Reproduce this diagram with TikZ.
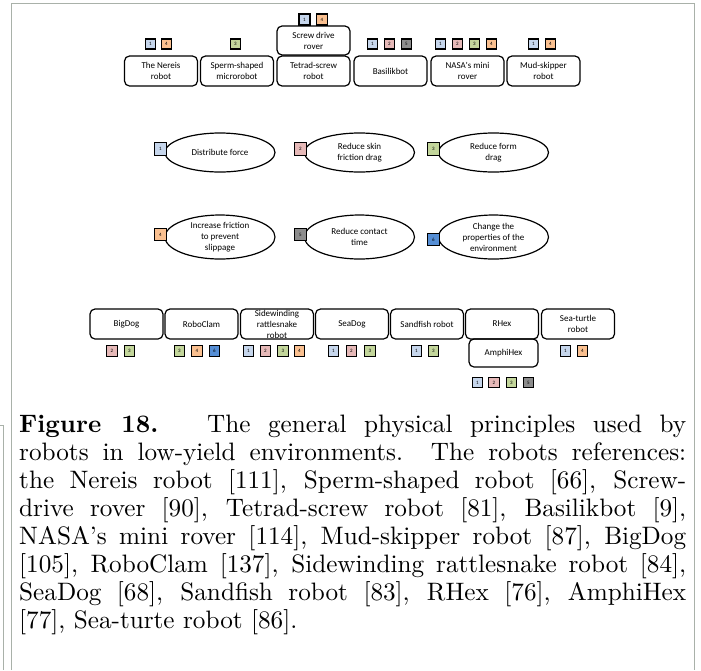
\documentclass[tikz,border=0pt]{standalone}
\usepackage{fontspec}
\newfontfamily\diagfont{Carlito}
\newfontfamily\capfont{lmroman10-regular}[Extension=.otf, BoldFont=lmroman10-bold]
\usetikzlibrary{shapes.geometric}
\definecolor{pc1}{HTML}{C6D6EC}
\definecolor{pc2}{HTML}{E6B9B8}
\definecolor{pc3}{HTML}{C3D69B}
\definecolor{pc4}{HTML}{FAC090}
\definecolor{pc5}{HTML}{8C8C8C}
\definecolor{pc6}{HTML}{558ED5}
\definecolor{frameGray}{HTML}{A9B1A9}
\begin{document}
\begin{tikzpicture}[x=1pt,y=-1pt,
  robot/.style={draw, line width=1.2pt, rounded corners=5pt, minimum width=73pt,
    minimum height=30pt, inner sep=0pt, align=center,
    font=\diagfont\fontsize{9}{11}\selectfont},
  principle/.style={draw, ellipse, line width=1.2pt, minimum width=110pt,
    minimum height=39pt, inner sep=0pt, align=center,
    font=\diagfont\fontsize{9}{11}\selectfont},
  ptag/.style={draw, line width=1.1pt, fill=pc#1, minimum size=10pt, inner sep=0pt,
    font=\diagfont\fontsize{5}{5}\selectfont},
  bigtag/.style={ptag=#1, minimum size=12.5pt},
  frameline/.style={draw=frameGray, line width=0.9pt},
  capline/.style={anchor=base west, inner sep=0pt, font=\capfont\fontsize{25.2}{28}\selectfont}
]
\useasboundingbox (0,0) rectangle (701,670);

% page frame
\draw[frameline] (11,670) -- (11,3) -- (694,3) -- (694,670);
\draw[frameline, line width=0.6pt] (0,425) -- (3,425) -- (3,670);

% ---- robots, top row ----
\node[robot] (nereis) at (161,71) {The Nereis\\robot};
\node[robot] (sperm) at (237,71) {Sperm-shaped\\microrobot};
\node[robot] (tetrad) at (313.5,71) {Tetrad-screw\\robot};
\node[robot, minimum height=29pt] (screw) at (313.5,40.5) {Screw drive\\rover};
\node[robot] (basilik) at (390.5,71) {Basilikbot};
\node[robot] (nasa) at (467.5,71) {NASA's mini\\rover};
\node[robot] (mud) at (543.5,71) {Mud-skipper\\robot};

\foreach \k/\x in {1/150.5,4/166.5} \node[ptag=\k] (nereis-p\k) at (\x,44) {\k};
\foreach \k/\x in {3/235.5} \node[ptag=\k] (sperm-p\k) at (\x,44) {\k};
\foreach \k/\x in {1/304.5,4/322} \node[ptag=\k, minimum size=11pt] (screw-p\k) at (\x,19.5) {\k};
\foreach \k/\x in {1/372.5,2/389.5,5/406.5} \node[ptag=\k] (basilik-p\k) at (\x,44) {\k};
\foreach \k/\x in {1/440.5,2/457.5,3/474.5,4/491.5} \node[ptag=\k] (nasa-p\k) at (\x,44) {\k};
\foreach \k/\x in {1/533.5,4/550.5} \node[ptag=\k] (mud-p\k) at (\x,44) {\k};

% ---- physical principles ----
\node[principle] (e1) at (220,152.5) {Distribute force};
\node[principle] (e2) at (359.5,152.5) {Reduce skin\\friction drag};
\node[principle] (e3) at (493.5,152.5) {Reduce form\\drag};
\node[principle, minimum height=44pt] (e4) at (220,237) {Increase friction\\to prevent\\slippage};
\node[principle, minimum height=44pt] (e5) at (359.5,237) {Reduce contact\\time};
\node[principle, minimum height=44pt] (e6) at (493.5,237) {Change the\\properties of the\\environment};

\node[bigtag=1] (k1) at (160.5,149) {1};
\node[bigtag=2] (k2) at (300.5,149) {2};
\node[bigtag=3] (k3) at (433.5,149) {3};
\node[bigtag=4] (k4) at (160.5,234.5) {4};
\node[bigtag=5] (k5) at (300.5,234.5) {5};
\node[bigtag=6] (k6) at (433.5,239.5) {6};

% ---- robots, bottom row ----
\node[robot] (bigdog) at (126.5,324) {BigDog};
\node[robot] (roboclam) at (201.5,324) {RoboClam};
\node[robot] (sidewind) at (277,324) {};
\node[align=center, inner sep=0pt, font=\diagfont\fontsize{9}{11}\selectfont]
  (sidewind-text) at (sidewind.center) {Sidewinding\\rattlesnake\\robot};
\node[robot] (seadog) at (352,324) {SeaDog};
\node[robot] (sandfish) at (427,324) {Sandfish robot};
\node[robot] (rhex) at (502,324) {RHex};
\node[robot, minimum width=69pt, minimum height=28pt] (amphihex) at (503.5,353) {AmphiHex};
\node[robot] (seaturtle) at (578,324) {Sea-turtle\\robot};

\foreach \k/\x in {2/112,3/129.5} \node[ptag=\k, minimum size=10.5pt] (bigdog-p\k) at (\x,351) {\k};
\foreach \k/\x in {3/179.5,4/197,6/214.5} \node[ptag=\k, minimum size=10.5pt] (roboclam-p\k) at (\x,351) {\k};
\foreach \k/\x in {1/248.5,2/265.5,3/283,4/299.5} \node[ptag=\k, minimum size=10.5pt] (sidewind-p\k) at (\x,351) {\k};
\foreach \k/\x in {1/333.5,2/351.5,3/370} \node[ptag=\k, minimum size=10.5pt] (seadog-p\k) at (\x,351) {\k};
\foreach \k/\x in {1/416.5,3/433.5} \node[ptag=\k, minimum size=10.5pt] (sandfish-p\k) at (\x,351) {\k};
\foreach \k/\x in {1/477.5,2/494,3/511.5,5/528.5} \node[ptag=\k, minimum size=10.5pt] (amphihex-p\k) at (\x,382.5) {\k};
\foreach \k/\x in {1/565.5,4/582.5} \node[ptag=\k, minimum size=10.5pt] (seaturtle-p\k) at (\x,351) {\k};

% ---- caption ----
\node[capline] (cap1) at (19,432) {\makebox[667pt][s]{\textbf{Figure 18.}\hspace{10pt} The general physical principles used by}};
\node[capline] (cap2) at (19,460) {\makebox[667pt][s]{robots in low-yield environments. The robots references:}};
\node[capline] (cap3) at (19,488) {\makebox[667pt][s]{the Nereis robot [111], Sperm-shaped robot [66], Screw-}};
\node[capline] (cap4) at (19,516) {\makebox[667pt][s]{drive rover [90], Tetrad-screw robot [81], Basilikbot [9],}};
\node[capline] (cap5) at (19,544) {\makebox[667pt][s]{NASA’s mini rover [114], Mud-skipper robot [87], BigDog}};
\node[capline] (cap6) at (19,572) {\makebox[667pt][s]{[105], RoboClam [137], Sidewinding rattlesnake robot [84],}};
\node[capline] (cap7) at (19,600) {\makebox[667pt][s]{SeaDog [68], Sandfish robot [83], RHex [76], AmphiHex}};
\node[capline] (cap8) at (19,628) {[77], Sea-turte robot [86].};
\end{tikzpicture}
\end{document}
